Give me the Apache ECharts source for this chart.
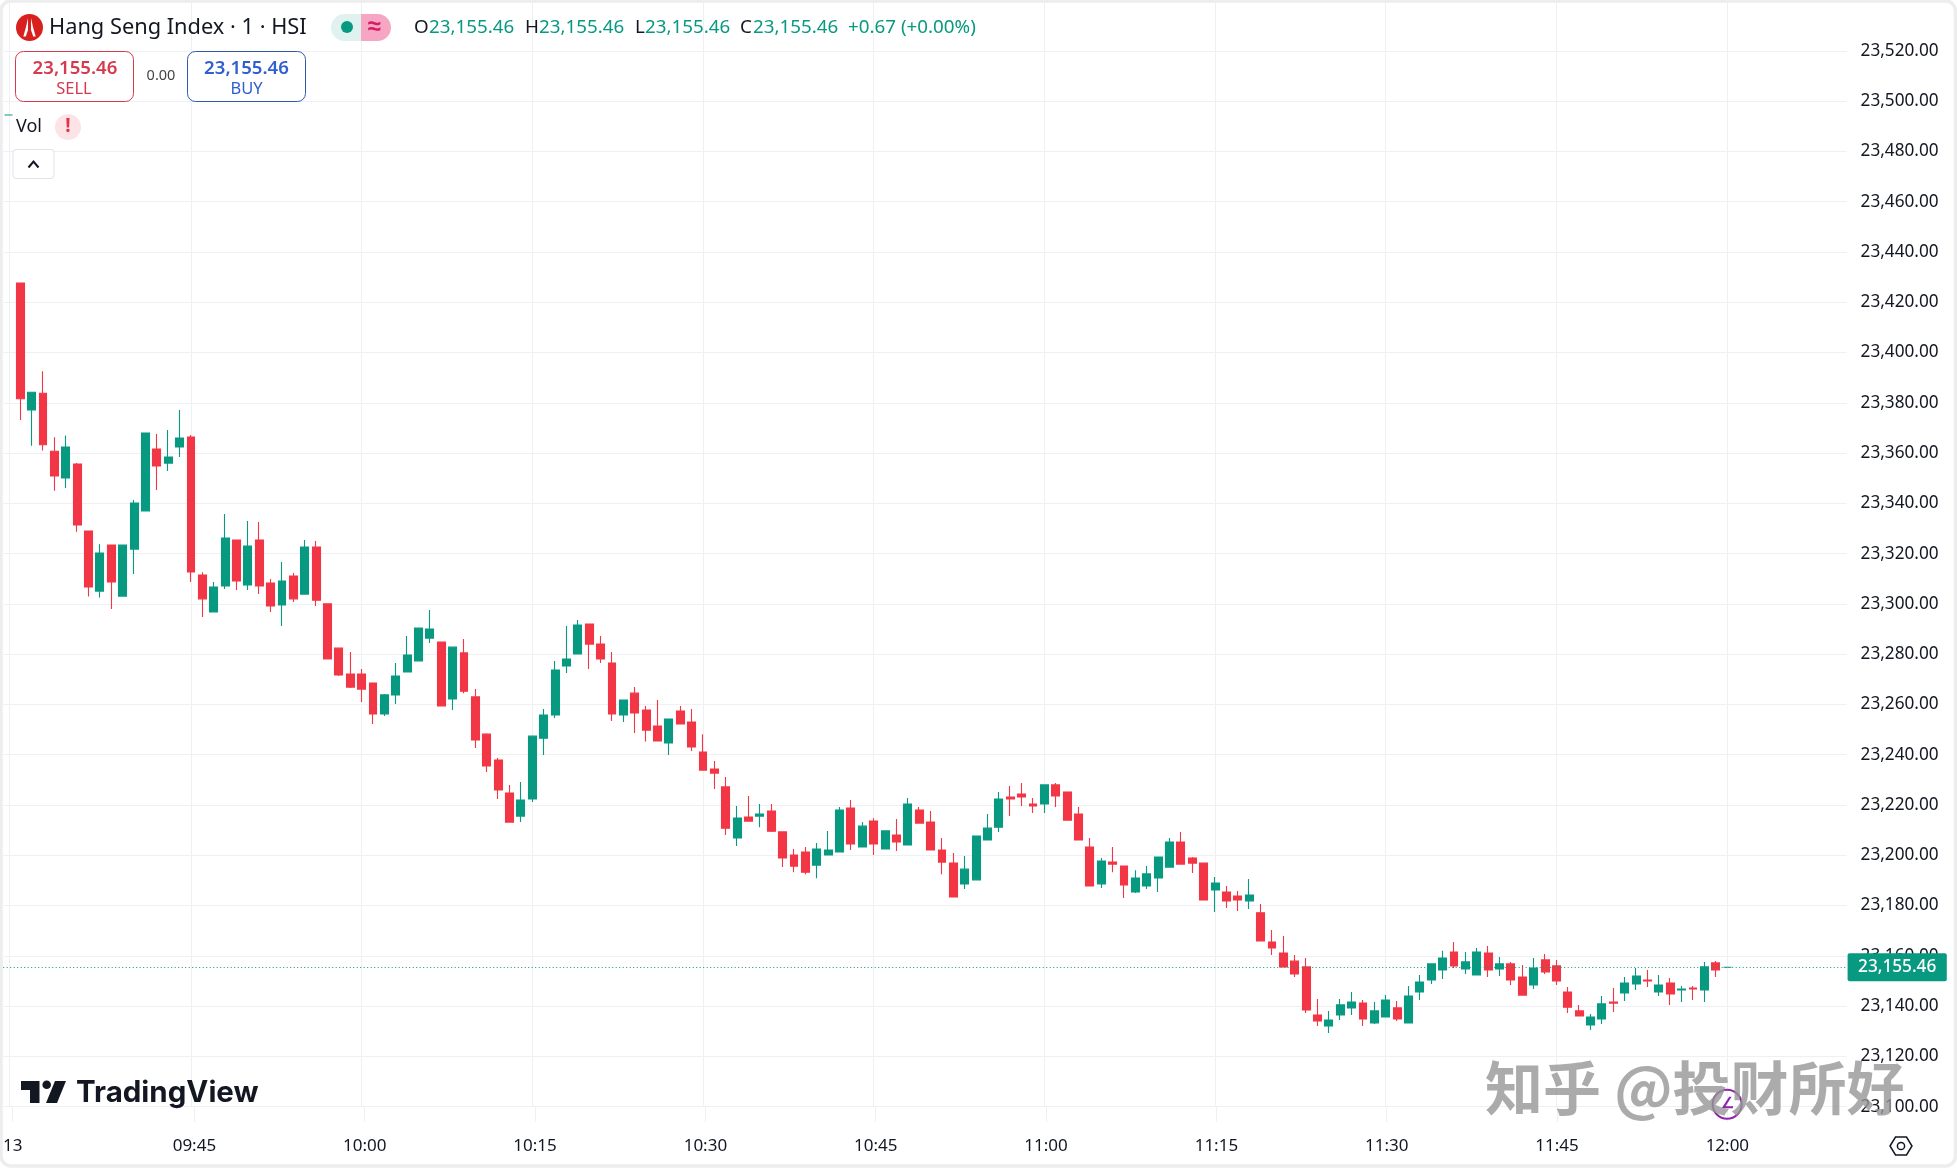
<!DOCTYPE html>
<html>
<head>
<meta charset="utf-8">
<style>html,body{margin:0;padding:0;background:#fff}#c{width:1957px;height:1168px}</style>
<script src="https://cdn.jsdelivr.net/npm/echarts@6/dist/echarts.min.js"></script>
</head>
<body>
<div id="c"></div>
<script>
const opens = [23494.5,
23427.6,23377.1,23383.8,23360.7,23350.1,23355.6,23329.0,23305.1,23323.4,23303.1,
23321.8,23337.0,23361.6,23356.0,23362.4,23366.4,23311.5,23296.8,23307.1,23325.4,
23307.5,23325.4,23308.3,23299.6,23311.1,23303.9,23322.6,23300.0,23282.4,23272.1,
23272.1,23268.5,23256.2,23263.8,23272.9,23277.3,23286.4,23284.8,23262.2,23280.5,
23263.0,23248.2,23237.9,23224.8,23215.6,23222.4,23246.6,23255.8,23275.3,23280.1,
23292.0,23284.0,23276.5,23255.8,23264.5,23257.8,23251.4,23244.7,23257.4,23253.0,
23241.1,23234.3,23227.2,23206.9,23215.2,23215.6,23217.6,23209.3,23200.1,23201.3,
23196.1,23200.1,23201.3,23218.8,23203.3,23213.6,23202.5,23208.1,23204.1,23218.0,
23213.2,23202.1,23196.9,23188.6,23190.2,23206.1,23211.2,23223.2,23224.4,23220.4,
23220.4,23228.0,23225.2,23216.4,23203.3,23188.6,23197.3,23195.7,23185.4,23187.8,
23191.0,23195.3,23205.3,23198.9,23196.9,23186.2,23185.4,23183.8,23181.8,23177.1,
23165.5,23161.1,23157.9,23155.6,23136.5,23132.1,23136.5,23139.3,23141.2,23133.3,
23135.7,23139.3,23133.3,23145.6,23150.4,23154.4,23161.5,23154.8,23152.4,23161.1,
23154.8,23156.8,23151.6,23148.4,23158.4,23156.0,23145.6,23138.1,23132.5,23134.9,
23141.6,23145.2,23148.8,23150.4,23145.6,23149.2,23146.4,23147.2,23146.4,23157.2,
23155.46];
const closes = [23494.5,
23381.6,23384.2,23363.3,23350.9,23362.4,23331.4,23306.7,23320.2,23308.7,23323.4,
23340.1,23368.0,23354.9,23358.4,23366.0,23312.7,23302.0,23306.7,23326.2,23309.1,
23323.0,23307.1,23299.2,23309.1,23302.0,23322.6,23301.5,23278.1,23271.7,23266.9,
23266.1,23256.2,23263.8,23271.3,23279.7,23290.4,23290.0,23259.4,23282.8,23265.3,
23245.9,23235.5,23226.0,23213.2,23222.0,23247.4,23255.8,23273.7,23278.1,23291.6,
23284.0,23278.1,23256.2,23261.8,23256.6,23249.8,23245.5,23254.2,23252.2,23243.1,
23233.9,23232.7,23210.8,23214.8,23213.6,23216.4,23209.6,23198.9,23195.7,23193.3,
23202.5,23202.1,23218.0,23204.5,23211.6,23204.5,23209.7,23205.3,23220.4,23212.8,
23202.1,23197.3,23183.4,23194.5,23207.7,23210.8,23222.4,23222.4,23223.2,23219.6,
23228.0,23223.6,23214.0,23206.1,23187.8,23197.7,23196.5,23188.2,23191.0,23192.6,
23199.3,23205.3,23196.5,23196.9,23182.2,23189.0,23181.8,23182.2,23184.2,23165.9,
23163.1,23155.6,23152.8,23138.5,23134.1,23134.5,23140.5,23141.6,23134.9,23138.1,
23142.4,23134.9,23144.0,23149.6,23156.8,23159.1,23156.0,23157.6,23161.5,23154.4,
23156.8,23150.4,23144.4,23155.2,23153.6,23150.0,23139.6,23136.1,23135.7,23140.9,
23141.2,23149.2,23152.0,23150.0,23148.4,23144.8,23146.8,23146.8,23155.6,23154.4,
23155.46];
const lows = [23494.5,
23373.2,23362.9,23361.0,23345.0,23346.1,23328.7,23302.9,23302.5,23298.0,23303.1,
23311.9,23337.0,23345.3,23352.9,23358.4,23308.7,23294.8,23296.8,23305.9,23305.5,
23305.5,23303.9,23296.8,23291.2,23300.8,23303.9,23299.2,23278.1,23271.3,23266.5,
23261.0,23252.2,23255.4,23260.2,23272.9,23277.3,23284.4,23259.4,23257.8,23264.5,
23242.7,23233.1,23222.4,23213.2,23213.2,23221.2,23239.9,23254.6,23272.5,23280.1,
23274.1,23276.5,23253.4,23253.0,23248.6,23245.3,23245.5,23239.9,23252.2,23241.5,
23233.9,23226.4,23208.1,23203.7,23213.6,23211.2,23209.3,23195.3,23193.3,23192.5,
23190.9,23200.1,23201.3,23202.1,23203.3,23200.1,23202.5,23201.7,23204.1,23212.8,
23202.1,23192.5,23183.4,23186.6,23190.2,23206.1,23209.3,23215.6,23219.6,23216.8,
23216.8,23219.2,23214.0,23206.1,23187.8,23187.0,23193.3,23183.0,23185.0,23186.6,
23185.4,23195.3,23196.5,23193.0,23182.2,23177.4,23179.0,23177.8,23178.6,23165.9,
23160.3,23155.6,23151.6,23137.3,23132.1,23129.3,23134.5,23136.5,23132.1,23132.9,
23135.7,23134.1,23133.3,23142.4,23148.8,23150.8,23155.2,23152.8,23152.4,23151.6,
23152.0,23148.4,23144.4,23146.8,23152.8,23148.4,23137.3,23136.1,23130.5,23132.9,
23137.7,23142.0,23146.4,23147.6,23144.0,23140.5,23141.6,23142.4,23141.6,23151.6,
23155.46];
const highs = [23494.5,
23427.6,23384.2,23392.5,23366.3,23367.0,23356.0,23329.0,23323.7,23323.4,23323.4,
23341.3,23368.0,23367.6,23369.2,23377.1,23367.2,23312.6,23308.7,23335.8,23325.4,
23333.0,23332.6,23309.9,23316.7,23312.3,23325.4,23325.0,23300.0,23282.4,23280.9,
23274.1,23268.5,23264.2,23276.5,23287.2,23290.4,23297.6,23284.8,23282.8,23286.0,
23266.1,23248.5,23238.7,23228.0,23229.2,23247.4,23258.2,23277.3,23291.2,23293.6,
23292.0,23287.2,23280.9,23261.8,23266.9,23259.4,23261.8,23254.2,23259.4,23258.2,
23248.2,23237.5,23231.1,23219.6,23223.6,23220.4,23220.4,23209.3,23202.5,23203.3,
23204.9,23209.7,23219.2,23222.0,23213.2,23214.7,23209.7,23214.4,23222.8,23219.2,
23217.6,23206.9,23200.9,23199.7,23207.7,23216.4,23225.2,23227.6,23228.8,23222.8,
23228.0,23228.8,23225.2,23219.2,23206.9,23198.9,23203.3,23195.7,23194.1,23195.7,
23199.3,23206.9,23209.3,23199.3,23196.9,23191.4,23187.8,23185.8,23190.6,23180.6,
23170.3,23167.9,23160.3,23159.1,23142.8,23138.1,23142.8,23145.6,23142.4,23141.6,
23144.4,23142.0,23148.0,23152.4,23156.8,23162.0,23165.5,23161.5,23163.1,23163.9,
23159.5,23157.6,23156.4,23159.1,23160.7,23158.4,23147.6,23140.5,23136.9,23144.0,
23147.2,23151.6,23155.2,23154.4,23152.4,23151.2,23148.0,23148.0,23157.6,23158.0,
23155.46];
const lastPrice = 23155.46;
const markerPrice = 23101;
const startMinute = 9 * 60 + 29;
const tickTimes = ['09:29','09:45','10:00','10:15','10:30','10:45','11:00','11:15','11:30','11:45','12:00'];
const tickLabels = ['13','09:45','10:00','10:15','10:30','10:45','11:00','11:15','11:30','11:45','12:00'];
const totalBands = 162;
const priceMin = 23100, priceMax = 23540, priceStep = 20;
const titleText = 'Hang Seng Index · 1 · HSI';
const ohlcParts = [['O','23,155.46',414,429],['H','23,155.46',525,539],['L','23,155.46',635,645],['C','23,155.46',740,753]];
const changeText = '+0.67 (+0.00%)';

const UP = '#089981', DOWN = '#F23645', INK = '#131722', GRID = '#EFF0F4';
const FONT = '"Noto Sans", sans-serif';

function hhmm(m){return String(Math.floor(m/60)).padStart(2,'0')+':'+String(m%60).padStart(2,'0');}
const categories = [];
for (let i = 0; i < totalBands; i++) categories.push(hhmm(startMinute + i));
const candles = categories.map((_, k) =>
  k < opens.length ? [opens[k], closes[k], lows[k], highs[k]] : ['-','-','-','-']);
const isTick = (idx, v) => tickTimes.includes(categories[idx]);

const pxPerUnit = 2.514, y23100 = 1106.7;
const left = 3.2, bandW = 11.379, paneBottom = 1122;
const top1 = y23100 - (priceMax - priceMin) * pxPerUnit;

function T(text, x, y, size, fill, weight, align, extra){
  return {type:'text', z:20, style:Object.assign({text, x, y, fill,
    font:(weight||'normal')+' '+size+'px '+FONT, textAlign:align||'left', textVerticalAlign:'middle'}, extra||{})};
}
function P(points, fill, z){return {type:'polygon', z:z||20, shape:{points}, style:{fill}};}

const graphics = [
  {type:'circle', z:20, shape:{cx:29.5,cy:27.5,r:13.5}, style:{fill:'#D8201F'}},
  P([[28,18],[28,30],[25.8,36.5],[23.3,36.5],[26,27]],'#fff',21),
  P([[31,18],[31,30],[33.2,36.5],[35.7,36.5],[33,27]],'#fff',21),
  T(titleText,49,28,21.8,INK),
  {type:'rect', z:20, shape:{x:331,y:14,width:30,height:27,r:[13.5,0,0,13.5]}, style:{fill:'#E0F2F0'}},
  {type:'rect', z:20, shape:{x:361,y:14,width:30,height:27,r:[0,13.5,13.5,0]}, style:{fill:'#F6A6C2'}},
  {type:'circle', z:21, shape:{cx:347,cy:27,r:6}, style:{fill:UP}},
  T('≈',374,27,24,'#D81B60','bold','center'),
  {type:'rect', z:20, shape:{x:15.5,y:51.5,width:118,height:50,r:8}, style:{fill:'#fff',stroke:'#D6394C',lineWidth:1}},
  T('23,155.46',75,69,18.6,'#D6394C','600','center'),
  T('SELL',74,89,16.5,'#D6394C','normal','center'),
  T('0.00',161,76,14.5,'#444','normal','center'),
  {type:'rect', z:20, shape:{x:187.5,y:51.5,width:118,height:50,r:8}, style:{fill:'#fff',stroke:'#2F5AA8',lineWidth:1}},
  T('23,155.46',246.5,69,18.6,'#2F5FD0','600','center'),
  T('BUY',246.5,89,16.5,'#2F5FD0','normal','center'),
  T('Vol',16,127,18,INK),
  {type:'circle', z:20, shape:{cx:68,cy:127,r:13}, style:{fill:'#FDE3E5'}},
  T('!',68,127,19,'#E0344A','bold','center'),
  {type:'rect', z:20, shape:{x:13,y:149.5,width:41,height:29,r:3}, style:{fill:'#fff',stroke:'#E0E3EB',lineWidth:1}},
  {type:'polyline', z:21, shape:{points:[[28.5,167.5],[33.5,161.5],[38.5,167.5]]}, style:{fill:'none',stroke:INK,lineWidth:2}},
  P([[21,1081],[39.5,1081],[39.5,1103],[30,1103],[30,1090],[21,1090]],INK),
  {type:'circle', z:20, shape:{cx:46.7,cy:1084.8,r:4.3}, style:{fill:INK}},
  P([[55,1081],[66,1081],[57,1103],[46,1103]],INK),
  {type:'text', z:20, style:{text:'TradingView',x:76,y:1093.5,fill:INK,font:'700 29.5px Inter, sans-serif',textAlign:'left',textVerticalAlign:'middle'}},
  {type:'polygon', z:21, shape:{points:[[1890,1146],[1895.5,1137],[1906.5,1137],[1912,1146],[1906.5,1155],[1895.5,1155]]}, style:{fill:'none',stroke:INK,lineWidth:1.5}},
  {type:'circle', z:21, shape:{cx:1901,cy:1146,r:3.6}, style:{fill:'none',stroke:INK,lineWidth:1.5}},
  {type:'text', z:60, style:{text:'知乎 @投财所好',x:1485,y:1088,fill:'rgba(150,150,150,0.8)',
    font:'bold 58px "Noto Sans CJK SC", sans-serif',textAlign:'left',textVerticalAlign:'middle',
    shadowColor:'#fff',shadowOffsetX:1,shadowOffsetY:1,shadowBlur:0}},
  {type:'rect', z:70, silent:true, shape:{x:1,y:1,width:1954.5,height:1165,r:10}, style:{fill:'none',stroke:'#EDEDED',lineWidth:3.5}}
];
ohlcParts.forEach(p => {
  graphics.push(T(p[0],p[2],28,18.8,INK));
  graphics.push(T(p[1],p[3],28,18.8,UP));
});
graphics.push(T(changeText,848,28,18.8,UP));

const chart = echarts.init(document.getElementById('c'));
chart.setOption({
  animation:false,
  backgroundColor:'#fff',
  grid:[
    {left:left, top:top1, width:bandW*totalBands, height:y23100-top1},
    {left:left, top:y23100, width:bandW*totalBands, height:paneBottom-y23100}
  ],
  xAxis:[
    {type:'category', gridIndex:0, data:categories, boundaryGap:true,
     axisLine:{show:false}, axisTick:{show:false}, axisLabel:{show:false},
     splitLine:{show:true, alignWithLabel:true, interval:isTick, lineStyle:{color:GRID,width:1}}},
    {type:'category', gridIndex:1, data:categories, boundaryGap:true,
     axisLine:{show:false}, axisTick:{show:false},
     splitLine:{show:true, alignWithLabel:true, interval:isTick, lineStyle:{color:GRID,width:1}},
     axisLabel:{show:true, interval:isTick, margin:16, color:INK, fontSize:17, fontFamily:FONT,
       formatter:(v)=> tickLabels[tickTimes.indexOf(v)]}}
  ],
  yAxis:[
    {type:'value', gridIndex:0, position:'right', min:priceMin, max:priceMax, interval:priceStep,
     axisLine:{show:false}, axisTick:{show:false},
     splitLine:{show:true, showMaxLine:false, lineStyle:{color:GRID,width:1}},
     axisLabel:{show:true, showMaxLabel:false, margin:14, color:INK, fontSize:17.2, fontFamily:FONT,
       formatter:v=>v.toLocaleString('en-US',{minimumFractionDigits:2,maximumFractionDigits:2})}},
    {type:'value', gridIndex:1, min:0, max:1, show:false, splitLine:{show:false}}
  ],
  graphic:{elements:graphics},
  series:[{
    type:'candlestick', xAxisIndex:0, yAxisIndex:0, data:candles, barWidth:8.4, z:5,
    itemStyle:{color:UP, color0:DOWN, borderColor:UP, borderColor0:DOWN, borderWidth:1.1},
    markLine:{silent:true, symbol:'none', animation:false, z:8,
      lineStyle:{color:UP, type:[1,2.5], width:1},
      label:{position:'end', distance:1, color:'#fff', backgroundColor:UP, borderRadius:2,
        padding:[6,10.5,5,10.5], fontSize:17.2, fontWeight:500, fontFamily:FONT,
        formatter:()=>lastPrice.toLocaleString('en-US',{minimumFractionDigits:2})},
      data:[{yAxis:lastPrice}]},
    markPoint:{silent:true, animation:false, z:9,
      data:[{coord:[categories[opens.length-1], markerPrice], symbol:'circle', symbolSize:29,
        itemStyle:{color:'rgba(255,255,255,0)',borderColor:'#8E24AA',borderWidth:2},
        label:{show:true,position:'inside',formatter:'∠',color:'#8E24AA',fontSize:15,fontWeight:'bold'}}]}
  }]
});
</script>
</body>
</html>
